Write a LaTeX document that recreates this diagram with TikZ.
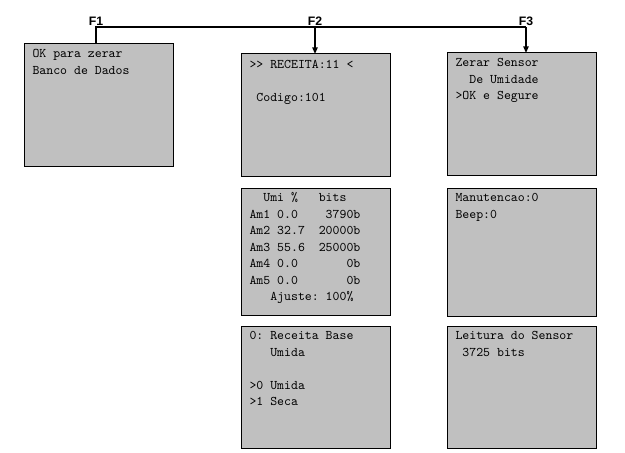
\documentclass[tikz,border=0pt]{standalone}
\usepackage{fontspec}
\setsansfont{Liberation Sans}
\usetikzlibrary{arrows.meta}

\tikzset{every picture/.style={line width=0.75pt}}
\tikzset{
  screen/.style={draw=black, fill={rgb,255:red,192;green,192;blue,192}, rectangle,
    inner sep=0pt, outer sep=0pt, anchor=north west, minimum width=111.75pt},
  screentext/.style={anchor=north west, inner sep=0pt, align=left,
    font=\ttfamily\frenchspacing\fontsize{9.9}{12.4}\selectfont},
  fkey/.style={anchor=base, inner sep=0pt, font=\sffamily\bfseries\fontsize{9.2}{10}\selectfont},
  keyline/.style={line width=1.1pt},
  keyarrow/.style={keyline, -{Triangle[length=5pt,width=4pt]}}
}

\begin{document}
\begin{tikzpicture}[x=0.75pt,y=0.75pt,yscale=-1,xscale=1]
\useasboundingbox (0,0) rectangle (625,453);

%Screens, column F1
\node[screen, minimum height=91.5pt] (b1) at (24,44) {};
%Screens, column F2
\node[screen, minimum height=91.5pt] (b2) at (241,54) {};
\node[screen, minimum height=95.25pt] (b4) at (241,188) {};
\node[screen, minimum height=91.5pt] (b6) at (241,326) {};
%Screens, column F3
\node[screen, minimum height=91.5pt] (b3) at (447,53) {};
\node[screen, minimum height=96pt] (b5) at (447,188) {};
\node[screen, minimum height=91.5pt] (b7) at (447,326) {};

% Text Node
\node[screentext] (t1) at ([xshift=6pt,yshift=1.2pt]b1.north west) {\strut OK para zerar\\Banco de Dados};
% Text Node
\node[screentext] (t2) at ([xshift=6pt,yshift=1.5pt]b2.north west) {\strut>{}> RECEITA:11 <\\~\\~Codigo:101};
% Text Node
\node[screentext] (t3) at ([xshift=6pt,yshift=1.2pt]b3.north west) {\strut Zerar Sensor\\~~De Umidade\\>OK e Segure};
% Text Node
\node[screentext] (t4) at ([xshift=6pt,yshift=1.2pt]b4.north west) {\strut~~Umi~\%~~~bits\\Am1~0.0~~~~3790b\\Am2~32.7~~20000b\\Am3~55.6~~25000b\\Am4~0.0~~~~~~~0b\\Am5~0.0~~~~~~~0b\\~~~Ajuste:~100\%};
% Text Node
\node[screentext] (t5) at ([xshift=6pt,yshift=1.2pt]b5.north west) {\strut Manutencao:0\\Beep:0};
% Text Node
\node[screentext] (t6) at ([xshift=6pt,yshift=1.2pt]b6.north west) {\strut 0: Receita Base\\~~~Umida\\~\\>0 Umida\\>1 Seca};
% Text Node
\node[screentext] (t7) at ([xshift=6pt,yshift=1.2pt]b7.north west) {\strut Leitura do Sensor\\~3725 bits};

%Key line
\coordinate (j1) at (96,27);
\coordinate (j2) at (315,27);
\coordinate (j3) at (526,27);
\draw[keyline] (j1 |- b1.north) -- (j1) -- (j3);
\draw[keyarrow] (j2) -- (j2 |- b2.north);
\draw[keyarrow] (j3) -- (j3 |- b3.north);

% Key labels
\node[fkey] (f1) at ([yshift=-1.2pt]j1) {F1};
\node[fkey] (f2) at ([yshift=-1.2pt]j2) {F2};
\node[fkey] (f3) at ([yshift=-1.2pt]j3) {F3};

\end{tikzpicture}
\end{document}
